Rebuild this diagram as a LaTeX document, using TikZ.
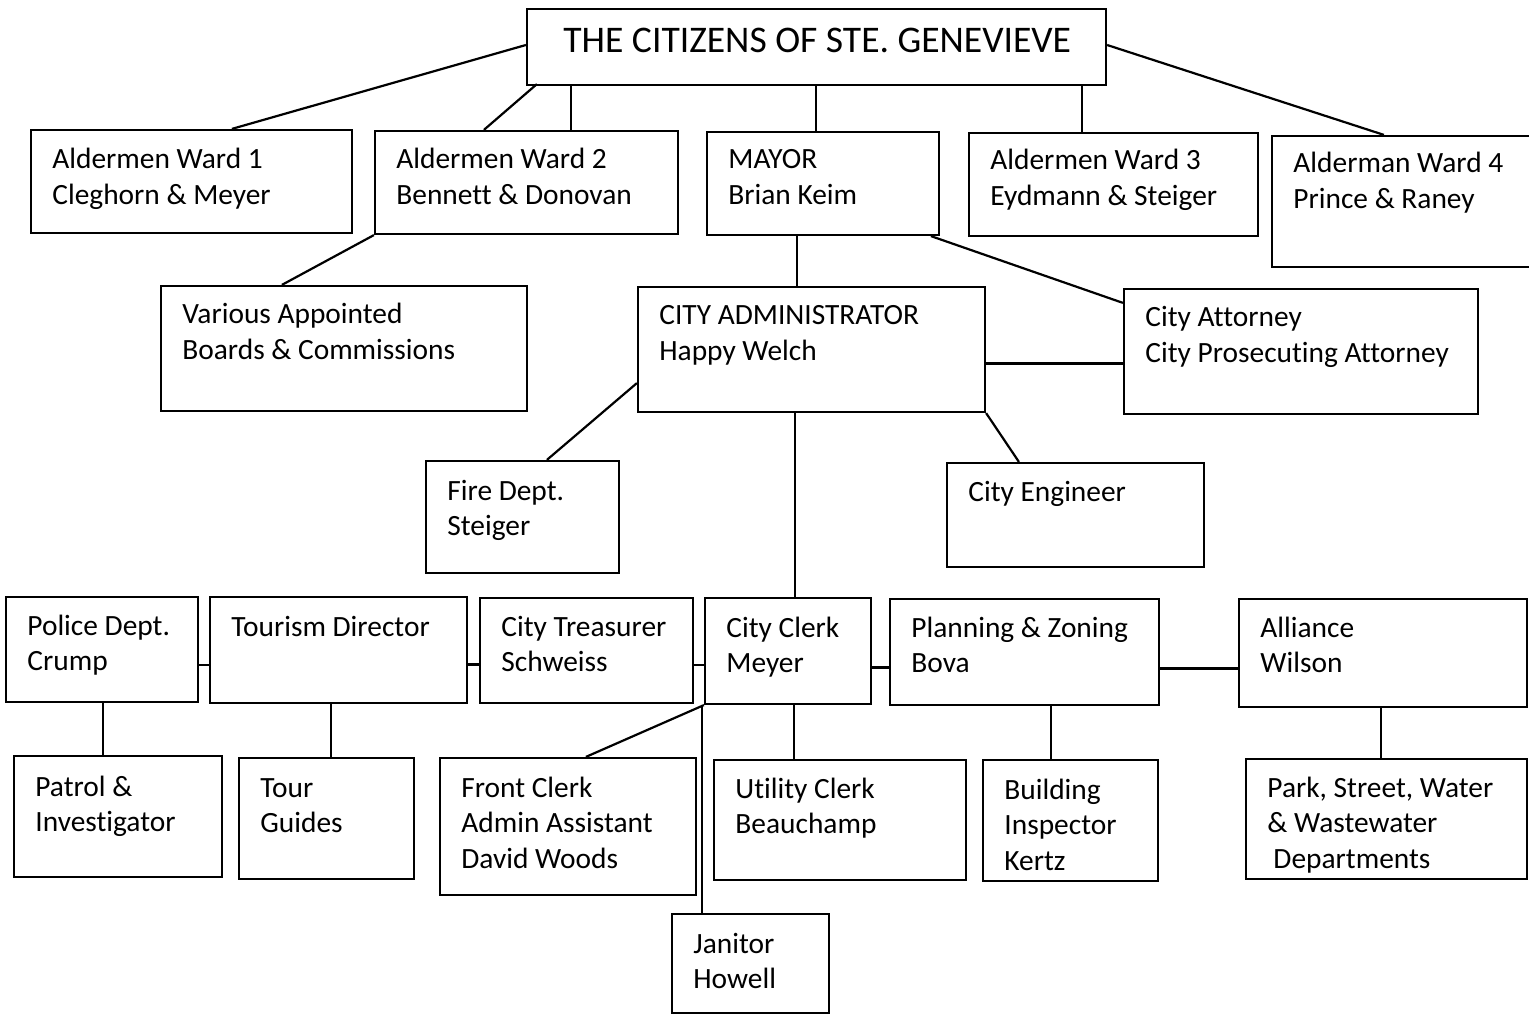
\documentclass[tikz,border=0pt]{standalone}
\usepackage{fontspec}
\setmainfont[Ligatures=NoCommon]{Carlito}
\usetikzlibrary{fit}
\tikzset{
  box/.style={draw=black, line width=1.1pt, inner sep=0pt, rectangle},
  txt/.style={inner sep=0pt, anchor=base west, font=\fontsize{14.7}{17.75}\selectfont},
  conn/.style={draw=black, line width=1.1pt},
}
\newcommand\orgbox[7]{%
  \node[box, fit={(#2,#3) (#4,#5)}] (#1) {};
  \node[txt] (#1-t) at (#2+21,#6) {\begin{tabular}[t]{@{}l@{}}#7\end{tabular}};
}
\begin{document}
\begin{tikzpicture}[x=0.5pt, y=-0.5pt]
\useasboundingbox[fill=white] (0,0) rectangle (1529,1015);

% boxes
\node[box, fit={(527,9) (1106,85)}] (cit) {};
\node[txt, font=\fontsize{18.8}{22}\selectfont] (cit-t) at (563,53) {THE CITIZENS OF STE. GENEVIEVE};

\orgbox{w1}{31}{130}{352}{233}{169}{Aldermen Ward 1\\Cleghorn \& Meyer}
\orgbox{w2}{375}{131}{678}{234}{169}{Aldermen Ward 2\\Bennett \& Donovan}
\orgbox{mayor}{707}{132}{939}{235}{169}{MAYOR\\Brian Keim}
\orgbox{w3}{969}{133}{1258}{236}{170}{Aldermen Ward 3\\Eydmann \& Steiger}
\orgbox{w4}{1272}{136}{1545}{267}{173}{Alderman Ward 4\\Prince \& Raney}
\orgbox{various}{161}{286}{527}{411}{324}{Various Appointed\\Boards \& Commissions}
\orgbox{admin}{638}{287}{985}{412}{325}{CITY ADMINISTRATOR\\Happy Welch}
\orgbox{att}{1124}{289}{1478}{414}{327}{City Attorney\\City Prosecuting Attorney}
\orgbox{fire}{426}{461}{619}{573}{500}{Fire Dept.\\Steiger}
\orgbox{eng}{947}{463}{1204}{567}{502}{City Engineer}
\orgbox{police}{6}{597}{198}{702}{635}{Police Dept.\\Crump}
\orgbox{tourism}{210}{597}{467}{703}{636}{Tourism Director}
\orgbox{treas}{480}{598}{693}{703}{636}{City Treasurer\\Schweiss}
\orgbox{clerk}{705}{598}{871}{704}{637}{City Clerk\\Meyer}
\orgbox{plan}{890}{599}{1159}{705}{637}{Planning \& Zoning\\Bova}
\orgbox{alli}{1239}{599}{1527}{707}{637}{Alliance\\Wilson}
\orgbox{patrol}{14}{756}{222}{877}{796}{Patrol \&\\Investigator}
\orgbox{tour}{239}{758}{414}{879}{797}{Tour\\Guides}
\orgbox{front}{440}{758}{696}{895}{797}{Front Clerk\\Admin Assistant\\David Woods}
\orgbox{util}{714}{760}{966}{880}{798}{Utility Clerk\\Beauchamp}
\orgbox{build}{983}{760}{1158}{881}{799}{Building\\Inspector\\Kertz}
\orgbox{park}{1246}{759}{1527}{879}{797}{Park, Street, Water\\\& Wastewater\\\hspace{3pt}Departments}
\orgbox{jan}{672}{914}{829}{1013}{953}{Janitor\\Howell}

% connectors from the citizens
\draw[conn] ([yshift=1pt]cit.west) -- ([xshift=101pt]w1.north west);
\draw[conn] ([xshift=5.5pt,yshift=1pt]cit.south west) -- ([xshift=55pt]w2.north west);
\draw[conn] ([xshift=98.5pt]w2.north west) coordinate (p1) -- (p1 |- cit.south);
\draw[conn] ([xshift=55pt]mayor.north west) coordinate (p2) -- (p2 |- cit.south);
\draw[conn] ([xshift=57pt]w3.north west) coordinate (p3) -- (p3 |- cit.south);
\draw[conn] ([yshift=1pt]cit.east) -- ([xshift=56.5pt]w4.north west);

% second level
\draw[conn] (w2.south west) -- ([xshift=61pt]various.north west);
\draw[conn] ([xshift=80pt]admin.north west) coordinate (p4) -- (p4 |- mayor.south);
\draw[conn] ([xshift=112.5pt]mayor.south west) -- ([yshift=-7.5pt]att.north west);
\draw[conn] ([yshift=-7pt]admin.east) coordinate (p5) -- (p5 -| att.west);
\draw[conn] ([yshift=15pt]admin.south west) -- ([xshift=61pt]fire.north west);
\draw[conn] (admin.south east) -- ([xshift=36.5pt]eng.north west);
\draw[conn] ([xshift=45.5pt]clerk.north west) coordinate (p6) -- (p6 |- admin.south);

% row of departments
\draw[conn] ([yshift=-7.75pt]police.east) coordinate (h1) -- (h1 -| tourism.west);
\draw[conn] ([yshift=-7.25pt]tourism.east) coordinate (h2) -- (h2 -| treas.west);
\draw[conn] ([yshift=-7.25pt]treas.east) coordinate (h3) -- (h3 -| clerk.west);
\draw[conn] ([yshift=-8.25pt]clerk.east) coordinate (h4) -- (h4 -| plan.west);
\draw[conn] ([yshift=-8.25pt]plan.east) coordinate (h5) -- (h5 -| alli.west);

% bottom level
\draw[conn] ([xshift=45pt]patrol.north west) coordinate (v1) -- (v1 |- police.south);
\draw[conn] ([xshift=46.5pt]tour.north west) coordinate (v2) -- (v2 |- tourism.south);
\draw[conn] (clerk.south west) -- ([xshift=73.5pt]front.north west);
\draw[conn] ([xshift=-1pt]clerk.south west) coordinate (v3) -- (v3 |- jan.north);
\draw[conn] ([xshift=45pt]clerk.south west) coordinate (v4) -- (v4 |- util.north);
\draw[conn] ([xshift=81pt]plan.south west) coordinate (v5) -- (v5 |- build.north);
\draw[conn] ([xshift=71.5pt]alli.south west) coordinate (v6) -- (v6 |- park.north);
\end{tikzpicture}
\end{document}
